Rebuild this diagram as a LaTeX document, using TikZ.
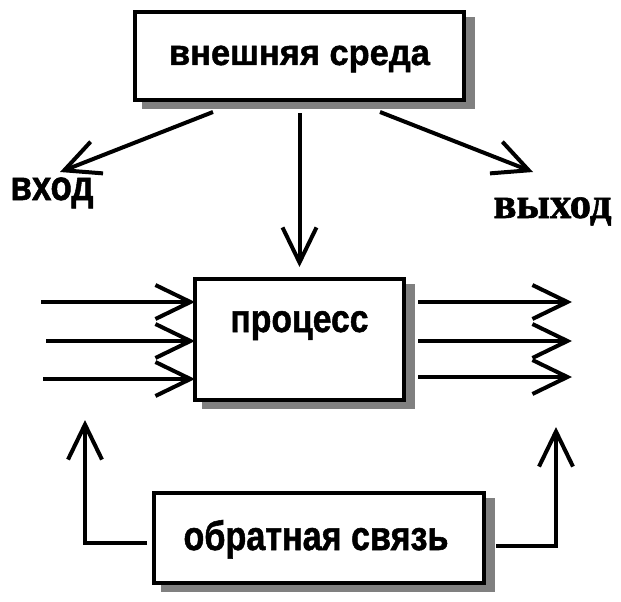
\documentclass[tikz,border=0pt]{standalone}
\usepackage{fontspec}
\setmainfont{Liberation Sans}[BoldFeatures={FakeBold=1.3}]
\newfontfamily\serifbold{Liberation Serif}[BoldFeatures={FakeBold=1.3}]
\usetikzlibrary{arrows.meta,backgrounds,calc}
\begin{document}
\begin{tikzpicture}[x=1pt,y=-1pt,
  box/.style={draw=black, line width=4pt, fill=white, rectangle, inner sep=0pt, outer sep=0pt},
  arr/.style={line width=4pt, -{Straight Barb[length=35pt,width=34pt]}},
  lbl/.style={anchor=base, inner sep=0pt, font=\bfseries},
  shadowfill/.style={fill=black!50}]
\useasboundingbox (0,0) rectangle (621,602);

% boxes
\node[box, minimum width=329pt, minimum height=88pt] (env) at (299.5,56) {};
\node[box, minimum width=209pt, minimum height=121pt] (proc) at (299.5,339.5) {};
\node[box, minimum width=330pt, minimum height=90pt] (fb) at (319,538) {};

% shadows
\begin{scope}[on background layer]
\foreach \n in {env,proc,fb}
  \fill[shadowfill] ([shift={(7,5)}]\n.north west) rectangle ([shift={(11,9)}]\n.south east);
\end{scope}

% texts
\node[lbl] (envt) at (299.5,65) {\resizebox{261pt}{\height}{\fontsize{36pt}{40pt}\selectfont внешняя среда}};
\node[lbl] (proct) at (299.5,332) {\resizebox{138pt}{\height}{\fontsize{39pt}{44pt}\selectfont процесс}};
\node[lbl] (fbt) at (316,550) {\resizebox{265pt}{\height}{\fontsize{41pt}{46pt}\selectfont обратная связь}};
\node[lbl] (intext) at (52,200) {\resizebox{83pt}{\height}{\fontsize{42pt}{48pt}\selectfont вход}};
\node[lbl] (outtext) at (552.5,218) {\resizebox{118pt}{\height}{\serifbold\bfseries\fontsize{44pt}{50pt}\selectfont выход}};

% connectors from the environment
\coordinate (inTip) at (60,172);
\coordinate (outTip) at (533,172);
\draw[arr] ([xshift=-86.5pt,yshift=-12pt]env.south) -- (inTip);
\draw[arr] ([yshift=-13pt]env.south) -- ([yshift=12pt]proc.north);
\draw[arr] ([xshift=80.5pt,yshift=-12pt]env.south) -- (outTip);

% inputs
\foreach \yy/\s [count=\i] in {302/41,341/46,379/43} {
  \coordinate (is\i) at (\s,\yy);
  \draw[arr] (is\i) -- (is\i -| proc.west);
}
% outputs
\foreach \yy [count=\i] in {302,341,377} {
  \coordinate (ot\i) at (572,\yy);
  \draw[arr] (proc.east |- ot\i) ++(14,0) -- (ot\i);
}

% feedback
\coordinate (fbL) at (85,420);
\coordinate (fbR) at (556,427);
\draw[arr] ([xshift=-7pt,yshift=-5pt]fb.west) -| (fbL);
\draw[arr] ([xshift=12pt,yshift=-8pt]fb.east) -| (fbR);
\end{tikzpicture}
\end{document}
